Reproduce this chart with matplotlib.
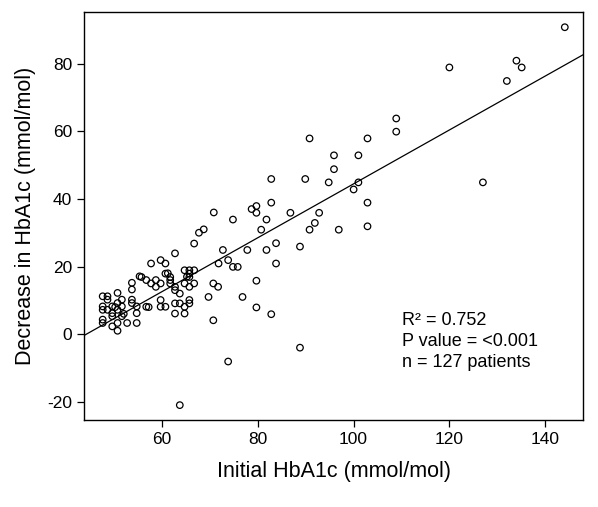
import numpy as np
import matplotlib
matplotlib.use("Agg")
import matplotlib.pyplot as plt

plt.rcParams['font.family'] = ['Liberation Sans', 'DejaVu Sans']
plt.rcParams['axes.unicode_minus'] = False

# исходный HbA1c (ммоль/моль) и его снижение
initial = [
    47.6, 48.6, 48.6, 47.6, 47.6, 48.6, 49.6, 47.6, 47.6, 49.6,
    49.6, 49.6, 50.7, 50.7, 50.7, 50.7, 50.7, 51.6, 51.6, 51.6,
    52.7, 53.7, 53.7, 53.7, 53.7, 54.7, 54.7, 54.7, 55.3,
    66.7, 62.7, 57.7, 59.7, 60.7, 72.7, 77.8, 71.8, 73.8, 74.8,
    75.8, 60.7, 55.7, 56.7, 57.7, 58.7, 58.7, 59.7, 61.7, 61.7,
    61.7, 62.7, 62.7, 63.7, 64.7, 65.7, 66.7, 65.7, 65.7, 64.7,
    65.7, 66.7, 56.7, 59.7, 59.7, 60.7, 62.7, 63.7, 62.7, 64.7,
    64.7, 65.7, 65.7, 69.7, 70.7, 71.7, 70.7, 76.8, 73.8, 63.7,
    70.8, 74.8, 67.7, 68.7, 78.7,
    90.8, 95.9, 101.0, 102.9, 95.9, 82.8, 89.9, 94.8, 101.0, 100.0,
    102.9, 102.9, 79.7, 79.7, 82.8, 81.8, 80.7, 86.8, 92.8, 91.9,
    90.8, 96.9, 88.8, 83.8, 81.8, 83.8, 79.7, 82.8, 88.8, 79.7,
    144.1, 120.0, 134.0, 135.1, 132.0, 108.9, 108.9, 127.0,
    50.2, 52.0, 57.2, 61.2, 65.2,
]
decrease = [
    11.2, 11.2, 10.2, 8.2, 7.2, 7.2, 8.2, 4.3, 3.3, 6.2,
    5.3, 2.3, 12.2, 9.2, 7.2, 3.3, 1.0, 10.2, 8.2, 5.3,
    3.3, 15.2, 13.2, 10.2, 9.2, 6.2, 3.3, 8.2, 17.1,
    26.8, 23.9, 20.9, 21.9, 20.9, 24.9, 24.9, 20.9, 21.9, 19.9,
    19.9, 17.9, 16.9, 16.0, 15.0, 16.0, 14.0, 15.0, 16.9, 16.0,
    15.0, 14.0, 13.0, 12.0, 18.9, 18.9, 18.9, 17.9, 16.9, 15.0,
    14.0, 15.0, 8.1, 10.1, 8.1, 8.1, 9.1, 9.1, 6.1, 8.1,
    6.1, 10.1, 9.1, 11.0, 15.0, 14.0, 4.1, 11.0, -8.1, -21.0,
    36.0, 33.9, 30.0, 31.0, 37.0,
    57.9, 52.9, 52.9, 57.9, 48.8, 45.9, 45.9, 44.9, 44.9, 42.8,
    38.9, 31.9, 37.9, 35.9, 38.9, 33.9, 30.9, 35.9, 35.9, 32.9,
    30.9, 30.9, 25.9, 26.9, 24.9, 20.9, 15.8, 5.9, -4.0, 7.9,
    90.8, 78.9, 80.9, 78.9, 74.9, 63.8, 59.9, 44.9,
    8.0, 6.0, 8.0, 18.0, 17.0,
]
stats_lines = ["R\u00b2 = 0.752", "P value = <0.001", "n = 127 patients"]

x = np.array(initial)
y = np.array(decrease)
slope, intercept = np.polyfit(x, y, 1)

fig = plt.figure(figsize=(5.98, 5.07), dpi=100)
ax = fig.add_axes([0.1405, 0.1716, 0.8344, 0.8047])

ax.scatter(x, y, s=22, facecolors='none', edgecolors='black', linewidths=0.9, zorder=3)

xs = np.array([43.7, 147.9])
ax.plot(xs, intercept + slope * xs, color='black', linewidth=0.9)

ax.set_xlim(43.7, 147.9)
ax.set_ylim(-25.4, 95.3)
ax.set_xticks([60, 80, 100, 120, 140])
ax.set_yticks([-20, 0, 20, 40, 60, 80])
ax.tick_params(labelsize=12.5, length=5, width=0.9, direction='out')
for s in ax.spines.values():
    s.set_linewidth(1.0)

ax.set_xlabel("Initial HbA1c (mmol/mol)", fontsize=15.5, labelpad=10)
ax.set_ylabel("Decrease in HbA1c (mmol/mol)", fontsize=15.5, labelpad=8)

for i, line in enumerate(stats_lines):
    ax.text(110.1, 4.1 - 6.3 * i, line, fontsize=13, va='center', ha='left')

fig.savefig("out.png", dpi=100)
